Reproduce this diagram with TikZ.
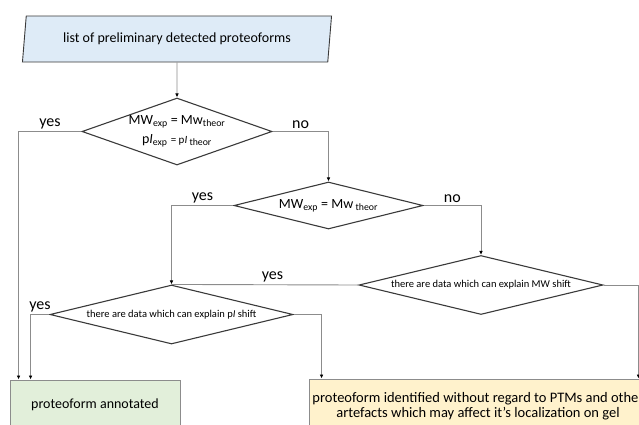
\documentclass[tikz,border=0pt]{standalone}
\usepackage{fontspec}
\setmainfont{Carlito}
\usetikzlibrary{shapes.geometric,arrows.meta}
\definecolor{BoxBlue}{HTML}{DEEBF7}
\definecolor{BoxGreen}{HTML}{E2EFDA}
\definecolor{BoxYellow}{HTML}{FFF2CC}
\definecolor{LineGray}{HTML}{8C8C8C}
\definecolor{EdgeDark}{HTML}{3A3A3A}

\begin{document}
\begin{tikzpicture}[x=1pt,y=-1pt,
    arrow/.style={draw=LineGray, line width=0.9pt, -{Latex[length=4pt,width=3.6pt,black]}},
    link/.style={draw=LineGray, line width=0.9pt},
    decision/.style={diamond, draw=EdgeDark, line width=1.1pt, inner sep=0pt, align=center},
    result/.style={rectangle, draw=LineGray, line width=0.9pt, inner sep=0pt, align=center,
      font=\fontsize{14}{15.5}\selectfont},
    answer/.style={font=\fontsize{16}{16}\selectfont, inner sep=2pt}]
  \useasboundingbox (0,0) rectangle (639,424);
  \clip (0,0) rectangle (639,424);
  % Input
  \node[trapezium, trapezium left angle=76.6, trapezium right angle=103.4,
    trapezium stretches, minimum width=310pt, minimum height=46pt, inner sep=0pt,
    draw=EdgeDark, fill=BoxBlue, line width=0.9pt, font=\fontsize{14}{14}\selectfont]
    (list) at (177,39) {list of preliminary detected proteoforms};
  % Decisions
  \node[decision, aspect=2.84, minimum width=190pt, minimum height=67pt,
    font=\fontsize{14}{19}\selectfont] (d1) at (177,131.5)
    {MW\textsubscript{exp} = Mw\textsubscript{theor}\\
     p\textit{I}\textsubscript{exp} {\fontsize{11}{11}\selectfont= p\textit{I}}\textsubscript{ theor}};
  \node[decision, aspect=4.0, minimum width=189pt, minimum height=47pt,
    font=\fontsize{14}{14}\selectfont] (d2) at (328.5,205.5)
    {MW\textsubscript{exp} = Mw\,\textsubscript{theor}};
  \node[decision, aspect=4.1, minimum width=243pt, minimum height=59pt,
    font=\fontsize{10.5}{10.5}\selectfont] (d3) at (171.5,314.5)
    {there are data which can explain p\textit{I} shift};
  \node[decision, aspect=4.1, minimum width=244pt, minimum height=59pt,
    font=\fontsize{10.5}{10.5}\selectfont] (d4) at (481,285)
    {there are data which can explain MW shift};
  % Results
  \node[result, fill=BoxGreen, minimum width=170pt, minimum height=50pt]
    (annot) at (95,405) {proteoform annotated};
  \node[result, fill=BoxYellow, minimum width=338pt, minimum height=54pt,
    font=\fontsize{14.5}{15.5}\selectfont]
    (ident) at (478,406) {proteoform identified without regard to PTMs and other\\
    artefacts which may affect it’s localization on gel};
  % Connectors
  \draw[arrow] (list) -- (d1);
  \draw[arrow] (d1.west) -| node[answer, above, pos=0.25] {yes} ([xshift=9pt]annot.north west);
  \draw[arrow] (d1.east) -| node[answer, above, pos=0.25] {no} (d2.north);
  \draw[arrow] (d2.west) -| node[answer, above, pos=0.25] {yes} (d3.north);
  \draw[arrow] (d2.east) -| node[answer, above, pos=0.25] {no} (d4.north);
  \draw[link] (d4.west) -- node[answer, above, pos=0.46] {yes} (d3.north);
  \draw[arrow] (d3.west) -| node[answer, above, pos=0.25] {yes} ([xshift=21pt]annot.north west);
  \draw[arrow] (d3.east) -| ([xshift=13pt]ident.north west);
  \draw[arrow] (d4.east) -| ([xshift=-9pt]ident.north east);
\end{tikzpicture}
\end{document}
